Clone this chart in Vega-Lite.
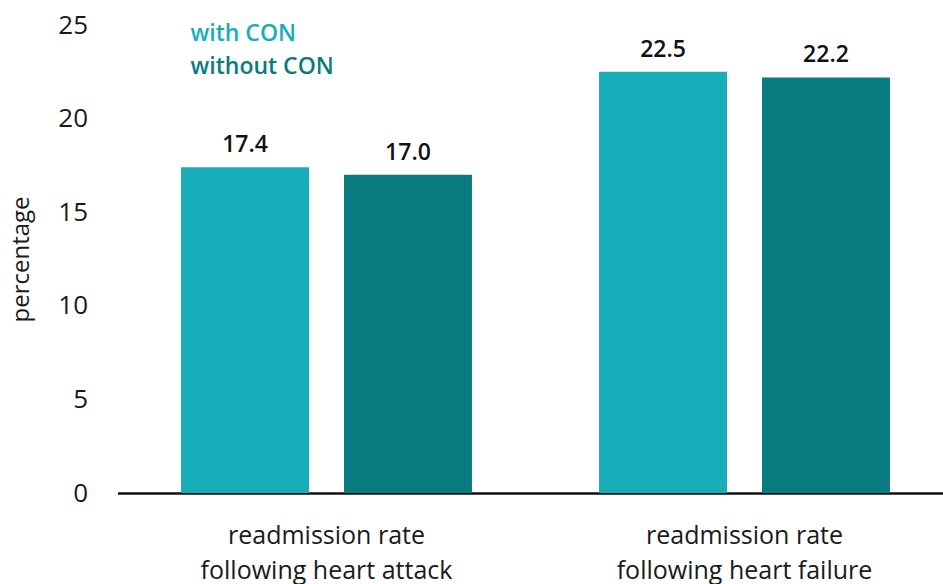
{
  "$schema": "https://vega.github.io/schema/vega-lite/v6.json",
  "autosize": "none",
  "width": 836,
  "height": 468,
  "padding": {"left": 117.5, "top": 25, "right": 0, "bottom": 91},
  "background": "white",
  "config": {
    "view": {"stroke": null},
    "font": "Open Sans",
    "axis": {"labelFont": "Open Sans", "titleFont": "Open Sans"}
  },
  "data": {
    "values": [
      {"measure": "readmission rate|following heart attack", "group": "with CON", "value": 17.4, "label": "17.4"},
      {"measure": "readmission rate|following heart attack", "group": "without CON", "value": 17.0, "label": "17.0"},
      {"measure": "readmission rate|following heart failure", "group": "with CON", "value": 22.5, "label": "22.5"},
      {"measure": "readmission rate|following heart failure", "group": "without CON", "value": 22.2, "label": "22.2"}
    ]
  },
  "encoding": {
    "x": {
      "field": "measure",
      "type": "nominal",
      "sort": null,
      "scale": {"paddingInner": 0.304, "paddingOuter": 0.152},
      "axis": {
        "title": null,
        "labelAngle": 0,
        "labelExpr": "split(datum.value, '|')",
        "labelFontSize": 25,
        "labelLimit": 0,
        "labelColor": "#1a1a1a",
        "labelLineHeight": 35,
        "labelPadding": 30,
        "ticks": false,
        "domainColor": "#111111",
        "domainWidth": 2.5
      }
    },
    "xOffset": {
      "field": "group",
      "type": "nominal",
      "sort": ["with CON", "without CON"],
      "scale": {"paddingInner": 0.215, "paddingOuter": 0}
    },
    "y": {
      "field": "value",
      "type": "quantitative",
      "scale": {"domain": [0, 25], "nice": false},
      "axis": {
        "title": "percentage",
        "titleFontSize": 24,
        "titleFontWeight": "normal",
        "titleColor": "#1a1a1a",
        "titlePadding": 24,
        "values": [0, 5, 10, 15, 20, 25],
        "labelFontSize": 26,
        "labelColor": "#1a1a1a",
        "labelPadding": 30,
        "ticks": false,
        "domain": false,
        "grid": false
      }
    }
  },
  "layer": [
    {
      "mark": {"type": "bar"},
      "encoding": {
        "color": {
          "field": "group",
          "type": "nominal",
          "sort": ["with CON", "without CON"],
          "scale": {"domain": ["with CON", "without CON"], "range": ["#17AEBA", "#0A7B80"]},
          "legend": {
            "title": null,
            "orient": "none",
            "legendX": 50,
            "legendY": -3,
            "symbolSize": 0,
            "symbolOpacity": 0,
            "symbolStrokeWidth": 0,
            "labelOffset": 0,
            "labelFontSize": 23,
            "labelFontWeight": 600,
            "labelLimit": 0,
            "rowPadding": 9,
            "encode": {
              "labels": {"update": {"fill": {"scale": "color", "field": "value"}}}
            }
          }
        }
      }
    },
    {
      "mark": {"type": "text", "baseline": "bottom", "dy": -10, "fontSize": 23, "fontWeight": 600, "color": "#111111"},
      "encoding": {
        "text": {"field": "label"}
      }
    }
  ]
}
